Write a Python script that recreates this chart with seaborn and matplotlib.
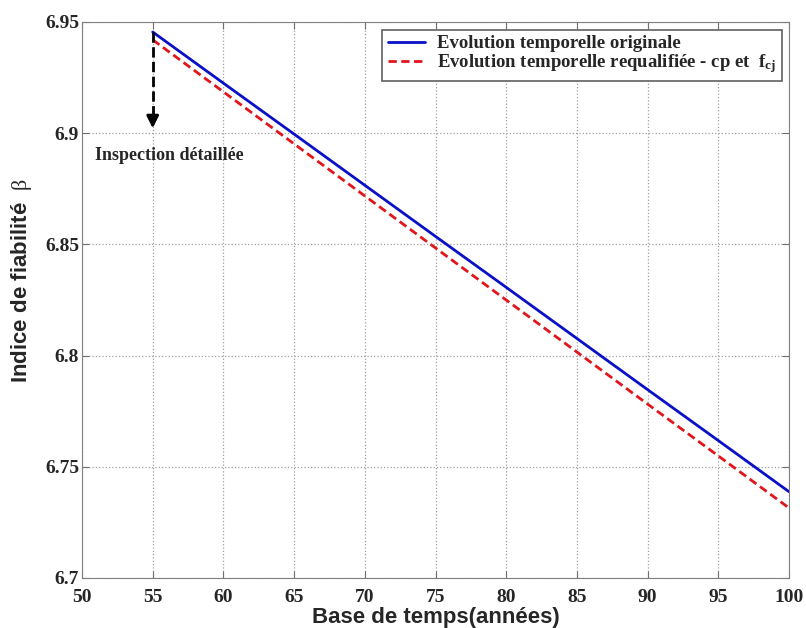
import numpy as np
import pandas as pd
import matplotlib
matplotlib.use('Agg')
import matplotlib.pyplot as plt
import seaborn as sns

annees = [55, 60, 65, 70, 75, 80, 85, 90, 95, 100]
beta_originale = [6.9455, 6.9225, 6.8996, 6.8766, 6.8536, 6.8307, 6.8077, 6.7847, 6.7618, 6.7388]
beta_requalifiee = [6.9420, 6.9186, 6.8952, 6.8718, 6.8484, 6.8250, 6.8016, 6.7782, 6.7549, 6.7315]

lbl_orig = 'Evolution temporelle originale'
lbl_req = r'Evolution temporelle requalifiée - cp et  f$_{\mathrm{cj}}$'

df = pd.DataFrame({'annee': annees * 2,
                   'beta': beta_originale + beta_requalifiee,
                   'serie': [lbl_orig] * len(annees) + [lbl_req] * len(annees)})

sns.set_style('ticks')
plt.rcParams['mathtext.fontset'] = 'custom'
plt.rcParams['mathtext.rm'] = 'Liberation Serif:bold'
plt.rcParams['mathtext.it'] = 'Liberation Serif'
plt.rcParams['mathtext.bf'] = 'Liberation Serif:bold'

fig = plt.figure(figsize=(8.06, 6.28), dpi=100)
ax = fig.add_axes([82 / 806, 1 - 578 / 628, 707 / 806, 556 / 628])

sns.lineplot(data=df, x='annee', y='beta', hue='serie', style='serie',
             palette={lbl_orig: '#0a10c8', lbl_req: '#e0161c'},
             dashes={lbl_orig: '', lbl_req: (3, 1.6)},
             linewidth=2, ax=ax)

ax.set_xlim(50, 100)
ax.set_ylim(6.7, 6.95)
ax.set_xticks(np.arange(50, 101, 5))
ax.set_yticks([6.7, 6.75, 6.8, 6.85, 6.9, 6.95])
ax.set_yticklabels(['6.7', '6.75', '6.8', '6.85', '6.9', '6.95'])
ax.grid(True, linestyle=':', color='#a0a0a0', linewidth=0.9)
ax.tick_params(direction='in', top=True, right=True, length=5, color='#707070', pad=2)
ax.tick_params(axis='x', pad=8)
for lab in ax.get_xticklabels() + ax.get_yticklabels():
    lab.set_fontfamily('Liberation Serif')
    lab.set_fontweight('bold')
    lab.set_fontsize(14)
for sp in ax.spines.values():
    sp.set_color('#808080')
    sp.set_visible(True)

ax.set_xlabel('Base de temps(années)', fontfamily='Liberation Sans', fontweight='bold', fontsize=16, labelpad=1)
ax.set_ylabel(r'Indice de fiabilité  $\it{\beta}$', fontfamily='Liberation Sans', fontweight='bold', fontsize=16)
ax.yaxis.set_label_coords(-0.068, 0.535)

# fleche d'inspection
ax.plot([55, 55], [6.9455, 6.907], color='black', linestyle='--', linewidth=2)
ax.annotate('', xy=(55, 6.901), xytext=(55, 6.909),
            arrowprops=dict(arrowstyle='-|>', color='black', lw=2, mutation_scale=18))
ax.text(50.9, 6.890, 'Inspection détaillée', fontfamily='Liberation Serif', fontweight='bold',
        fontsize=13, va='center', ha='left')

leg = ax.legend(loc='upper right', bbox_to_anchor=(1.0, 1.0), frameon=True, fancybox=False,
                prop={'family': 'Liberation Serif', 'weight': 'bold', 'size': 13.5},
                handlelength=2.0, handletextpad=0.6, borderpad=0.3, labelspacing=0.0,
                borderaxespad=0.4)
leg.get_frame().set_edgecolor('#606060')
leg.get_frame().set_linewidth(1.2)
leg.get_frame().set_alpha(1)

fig.savefig('out.png', dpi=100)
